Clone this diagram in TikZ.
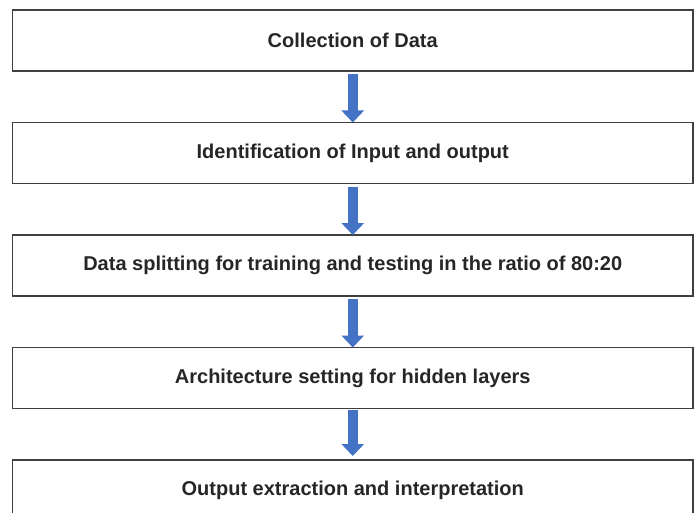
\documentclass[tikz,border=0pt]{standalone}
\usepackage{fontspec}
\setmainfont{Liberation Sans}
\usetikzlibrary{arrows.meta,positioning}
\definecolor{boxline}{HTML}{404040}
\definecolor{txtgray}{HTML}{262626}
\definecolor{flowblue}{HTML}{4472C4}

\begin{document}
\begin{tikzpicture}[node distance=51.5pt,
    stage/.style={draw=boxline, line width=1.8pt, outer sep=0pt, minimum width=680.5pt, minimum height=61pt,
                  font=\fontsize{20}{23}\selectfont\bfseries, text=txtgray},
    flow/.style={draw=flowblue, line width=10.5pt, -{Triangle[length=12pt,width=22pt]}}]
    \useasboundingbox (0,0) rectangle (698pt,-513pt);
    \clip (0,0) rectangle (698pt,-513pt);

    \node[stage] (collect)                      at (352.75pt,-40.5pt) {Collection of Data};
    \node[stage] (identify) [below=of collect]  {Identification of Input and output};
    \node[stage] (split)    [below=of identify] {Data splitting for training and testing in the ratio of 80:20};
    \node[stage] (arch)     [below=of split]    {Architecture setting for hidden layers};
    \node[stage] (extract)  [below=of arch]     {Output extraction and interpretation};

    \draw[flow] ([yshift=-3pt]collect.south)  -- (identify.north);
    \draw[flow] ([yshift=-3pt]identify.south) -- (split.north);
    \draw[flow] ([yshift=-3pt]split.south)    -- (arch.north);
    \draw[flow] ([yshift=-1pt]arch.south)     -- ([yshift=4pt]extract.north);
\end{tikzpicture}
\end{document}
